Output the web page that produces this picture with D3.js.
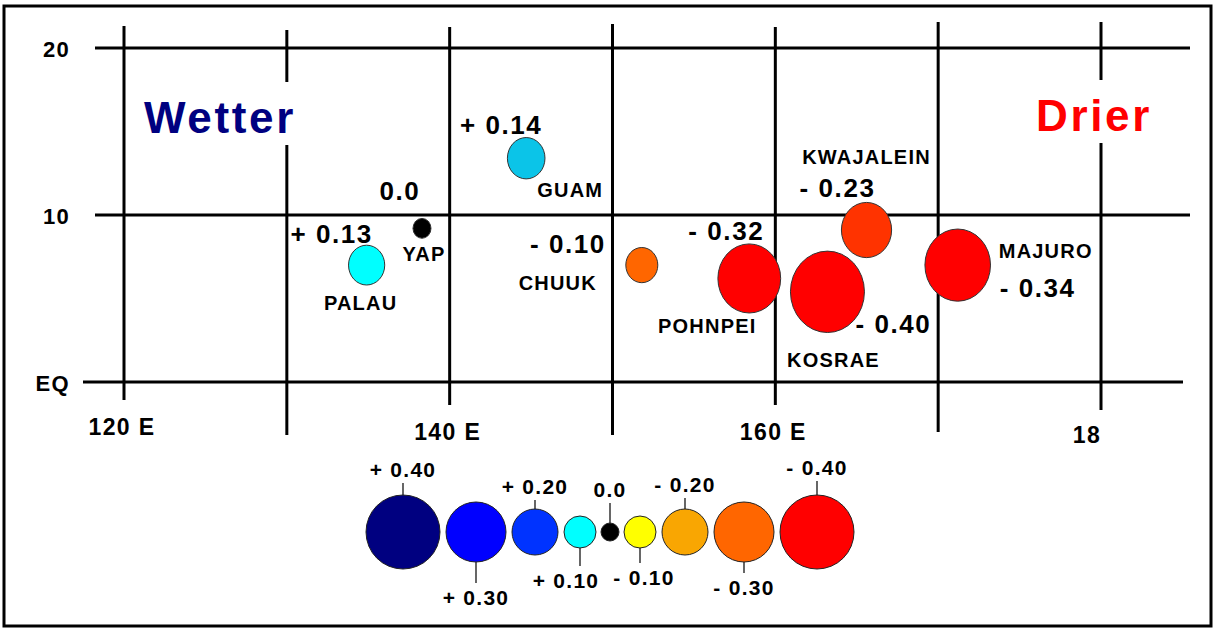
<!DOCTYPE html>
<html>
<head>
<meta charset="utf-8">
<script src="https://cdn.jsdelivr.net/npm/d3@7"></script>
<style>
  body { margin: 0; background: #fff; }
  text { font-family: "Liberation Sans", Arial, sans-serif; font-weight: bold; }
</style>
</head>
<body>
<svg id="chart" width="1215" height="628"></svg>
<script>
// Station data
let stations = ['PALAU', 'YAP', 'GUAM', 'CHUUK', 'POHNPEI', 'KOSRAE', 'KWAJALEIN', 'MAJURO'],
    lons = [134.9, 138.3, 144.7, 151.8, 158.4, 163.2, 165.6, 171.2],
    lats = [7.0, 9.2, 13.4, 7.0, 6.2, 5.4, 9.1, 7.0],
    values = [0.13, 0.0, 0.14, -0.10, -0.32, -0.40, -0.23, -0.34],
    valueLabels = ['+ 0.13', '0.0', '+ 0.14', '- 0.10', '- 0.32', '- 0.40', '- 0.23', '- 0.34'],
    stationColors = ['#00ffff', '#000000', '#0bc4e8', '#ff6600', '#ff0000', '#ff0000', '#ff3300', '#ff0000'];

// Legend data
let legendValues = [0.40, 0.30, 0.20, 0.10, 0.0, -0.10, -0.20, -0.30, -0.40],
    legendLabels = ['+ 0.40', '+ 0.30', '+ 0.20', '+ 0.10', '0.0', '- 0.10', '- 0.20', '- 0.30', '- 0.40'],
    legendColors = ['#000080', '#0000ff', '#0033ff', '#00ffff', '#000000', '#ffff00', '#f9a602', '#ff6600', '#ff0000'];

// Axis ticks
let lonTicks = [120, 130, 140, 150, 160, 170, 180],
    lonTickLabels = ['120 E', '', '140 E', '', '160 E', '', '18'],
    latTicks = [0, 10, 20],
    latTickLabels = ['EQ', '10', '20'];

let svg = d3.select('#chart');

let x = d3.scaleLinear().domain([120, 180]).range([124, 1101]),
    y = d3.scaleLinear().domain([0, 20]).range([382, 48]),
    r = d3.scaleLinear().domain([0, 0.4]).range([9, 37]);

// wide bold text, like the original Arial rendering
function wide(sel, size) {
    return sel.attr('font-size', size).attr('letter-spacing', size * 0.06);
}

// Frame
svg.append('rect')
    .attr('x', 4).attr('y', 6).attr('width', 1207).attr('height', 620)
    .attr('fill', 'none').attr('stroke', '#000').attr('stroke-width', 3);

// Horizontal grid lines
svg.append('g').selectAll('line')
    .data(latTicks)
    .enter().append('line')
    .attr('x1', (d) => d === 0 ? 83 : 95)
    .attr('x2', (d) => d === 0 ? 1183 : 1190)
    .attr('y1', (d) => y(d)).attr('y2', (d) => y(d))
    .attr('stroke', '#000').attr('stroke-width', 3);

// Vertical grid lines, a few broken around the big words
let vSegs = {
    120: [[26, 400]], 130: [[30, 82], [145, 435]], 140: [[27, 405]], 150: [[24, 435]],
    160: [[27, 405]], 170: [[22, 432]], 180: [[22, 80], [143, 410]]
};
lonTicks.forEach((t) => {
    vSegs[t].forEach((s) => {
        svg.append('line')
            .attr('x1', x(t)).attr('x2', x(t))
            .attr('y1', s[0]).attr('y2', s[1])
            .attr('stroke', '#000').attr('stroke-width', 3);
    });
});

// Tick labels
wide(svg.append('g').selectAll('text')
    .data(latTicks)
    .enter().append('text')
    .attr('x', 70).attr('y', (d) => y(d) + 9)
    .attr('text-anchor', 'end'), 22)
    .text((d, i) => latTickLabels[i]);

wide(svg.append('g').selectAll('text')
    .data(lonTicks)
    .enter().append('text')
    .attr('x', (d, i) => i === 6 ? x(d) - 14 : x(d) - 2)
    .attr('y', (d, i) => i === 0 ? 435 : (i === 6 ? 443 : 440))
    .attr('text-anchor', 'middle'), 23)
    .text((d, i) => lonTickLabels[i]);

// Big words
wide(svg.append('text').attr('x', 144).attr('y', 133), 44)
    .attr('fill', '#000080').text('Wetter');
wide(svg.append('text').attr('x', 1036).attr('y', 131), 44)
    .attr('fill', '#ff0000').text('Drier');

// Stations
svg.append('g').selectAll('ellipse')
    .data(values)
    .enter().append('ellipse')
    .attr('cx', (d, i) => x(lons[i]))
    .attr('cy', (d, i) => y(lats[i]))
    .attr('rx', (d) => r(Math.abs(d)))
    .attr('ry', (d) => r(Math.abs(d)) * 1.1)
    .attr('fill', (d, i) => stationColors[i])
    .attr('stroke', '#333').attr('stroke-width', 1);

// label offsets relative to each station: [value dx, dy, name dx, dy]
let labelOffsets = [
    [-35, -22, -6, 45], [-22, -28, 2, 33], [-25, -24, 44, 39], [-74, -12, -84, 25],
    [-23, -38, -42, 55], [66, 41, 6, 75], [-29, -33, 0, -66], [80, 32, 88, -7]
];
let g = svg.append('g');
values.forEach((v, i) => {
    let cx = x(lons[i]), cy = y(lats[i]);
    wide(g.append('text').attr('x', cx + labelOffsets[i][0]).attr('y', cy + labelOffsets[i][1])
        .attr('text-anchor', 'middle'), 26).text(valueLabels[i]);
    wide(g.append('text').attr('x', cx + labelOffsets[i][2]).attr('y', cy + labelOffsets[i][3])
        .attr('text-anchor', 'middle'), 20).text(stations[i]);
});

// Legend
let lx = [], cur = 366;
legendValues.forEach((v, i) => {
    let rad = r(Math.abs(v));
    cur += rad;
    lx.push(cur);
    cur += rad + (i === 4 || i === 3 ? 5 : 6);
});
let ly = 532,
    labelAbove = [true, false, true, false, true, false, true, false, true],
    labelY = [477, 605, 494, 588, 497, 585, 492, 595, 475],
    labelDx = [0, 0, 0, -14, 0, 4, 0, 0, 0];

let lg = svg.append('g');
legendValues.forEach((v, i) => {
    let rad = r(Math.abs(v));
    let above = labelAbove[i];
    lg.append('line')
        .attr('x1', lx[i]).attr('x2', lx[i])
        .attr('y1', above ? ly - rad : ly + rad)
        .attr('y2', above ? labelY[i] + 6 : labelY[i] - 22)
        .attr('stroke', '#000').attr('stroke-width', 1.2);
    lg.append('circle')
        .attr('cx', lx[i]).attr('cy', ly).attr('r', rad)
        .attr('fill', legendColors[i]).attr('stroke', '#222').attr('stroke-width', 1);
    wide(lg.append('text')
        .attr('x', lx[i] + labelDx[i]).attr('y', labelY[i])
        .attr('text-anchor', 'middle'), 21)
        .text(legendLabels[i]);
});
</script>
</body>
</html>
